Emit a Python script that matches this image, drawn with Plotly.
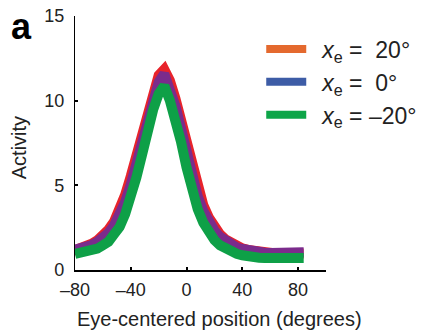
import plotly.graph_objects as go

# Eye-centered position grid (degrees)
x_deg = list(range(-84, 85, 4))

# Activity for x_e = 20 deg (drawn red)
act_xe_20 = [1.05, 1.15, 1.3, 1.4, 1.55, 1.75, 2.01, 2.38, 2.86, 3.54, 4.45, 5.54, 6.8, 8.16,
             9.47, 10.55, 11.5, 11.85, 11.2, 10.13, 8.92, 7.51, 6.07, 4.82, 3.84, 3.1, 2.54,
             2.11, 1.81, 1.58, 1.40, 1.28, 1.19, 1.12, 1.06, 1.02, 0.99, 0.97, 0.97, 0.97,
             0.97, 0.97, 0.98]
# Activity for x_e = 0 deg (drawn purple)
act_xe_0 = [None, 1.2, 1.26, 1.35, 1.48, 1.66, 1.88, 2.2, 2.63, 3.2, 4.03, 5.04, 6.25, 7.58,
            8.99, 10.17, 11.1, 11.58, 10.76, 9.69, 8.38, 6.9, 5.49, 4.35, 3.48, 2.83, 2.33,
            1.96, 1.70, 1.49, 1.33, 1.24, 1.16, 1.09, 1.05, 1.02, 1.01, 1.0, 1.0, 1.0,
            0.99, 1.0, 1.05]
# Activity for x_e = -20 deg (drawn green)
act_xe_m20 = [None, 0.95, 1.0, 1.06, 1.13, 1.26, 1.46, 1.67, 2.11, 2.54, 3.3, 4.25, 5.46, 6.77,
              8.23, 9.45, 10.4, 10.87, 10.02, 8.94, 7.58, 6.05, 4.67, 3.59, 2.8, 2.23, 1.77,
              1.46, 1.25, 1.06, 0.96, 0.87, 0.79, 0.75, 0.72, 0.71, 0.7, 0.69, 0.69, 0.69,
              0.69, 0.69, 0.71]

x_tick_vals = [-80, -40, 0, 40, 80]
x_tick_text = ["\u201380", "\u201340", "0", "40", "80"]
y_tick_vals = [0, 5, 10, 15]
y_tick_text = ["0", "5", "10", "15"]

legend_labels = ["\u00a0\u2009<i>x</i><sub>e</sub> =\u00a0\u00a020\u00b0",
                 "\u00a0\u2009<i>x</i><sub>e</sub> =\u00a0\u00a00\u00b0",
                 "\u00a0\u2009<i>x</i><sub>e</sub> = \u201320\u00b0"]

FONT = "Liberation Sans, Arial, Helvetica, sans-serif"
LW = 10

fig = go.Figure()
# red first (bottom), with a square cap at its left end
fig.add_trace(go.Scatter(x=x_deg, y=act_xe_20, mode="lines+markers",
                         line=dict(color="#E8232B", width=LW),
                         marker=dict(symbol="square", size=[9] + [0] * (len(x_deg) - 1),
                                     color="#E8232B", line=dict(width=0)),
                         cliponaxis=False, showlegend=False, hoverinfo="skip"))
fig.add_trace(go.Scatter(x=x_deg, y=act_xe_0, mode="lines",
                         line=dict(color="#7B2B8C", width=LW),
                         showlegend=False, hoverinfo="skip"))
fig.add_trace(go.Scatter(x=x_deg, y=act_xe_m20, mode="lines",
                         line=dict(color="#0EA047", width=LW),
                         showlegend=False, hoverinfo="skip"))

legend_colors = ["#E4692E", "#3D5CA6", "#0DA548"]
for i, (lab, col) in enumerate(zip(legend_labels, legend_colors)):
    fig.add_trace(go.Scatter(x=[None], y=[None], mode="lines", name=lab,
                             legendgroup=f"g{i}",
                             line=dict(color=col, width=8)))

fig.update_layout(
    width=428, height=330,
    margin=dict(l=75, r=102, t=16, b=60, autoexpand=False),
    paper_bgcolor="white", plot_bgcolor="white",
    font=dict(family=FONT, color="#222", size=18),
    showlegend=True,
    legend=dict(x=0.742, y=0.955, xanchor="left", yanchor="top",
                font=dict(size=23, family=FONT, color="#222"),
                bgcolor="rgba(0,0,0,0)", tracegroupgap=0, itemwidth=40),
    xaxis=dict(range=[-80, 100], tickvals=x_tick_vals, ticktext=x_tick_text,
               ticks="inside", ticklen=3, tickwidth=1.5, tickcolor="black",
               showline=True, linewidth=2, linecolor="black", automargin=False,
               showgrid=False, zeroline=False, ticklabelstandoff=2,
               tickfont=dict(size=18)),
    yaxis=dict(range=[0, 15], tickvals=y_tick_vals, ticktext=y_tick_text,
               ticks="inside", ticklen=3, tickwidth=1.5, tickcolor="black",
               showline=True, linewidth=1.2, linecolor="black", automargin=False,
               showgrid=False, zeroline=False, ticklabelstandoff=6,
               tickfont=dict(size=18)),
    annotations=[
        dict(text="Eye-centered position (degrees)", x=0.577, y=-0.192,
             xref="paper", yref="paper", xanchor="center", yanchor="middle",
             showarrow=False, font=dict(size=20)),
        dict(text="Activity", x=-0.2255, y=0.481, xref="paper", yref="paper",
             xanchor="center", yanchor="middle", textangle=-90,
             showarrow=False, font=dict(size=20)),
        dict(text="<b>a</b>", x=-0.2136, y=0.958, xref="paper", yref="paper",
             xanchor="center", yanchor="middle", showarrow=False,
             font=dict(size=36, color="black")),
    ],
)

fig.write_html("out.html",
               config={"displayModeBar": False},
               post_script="document.body.style.margin='0';"
                           "document.body.style.overflow='hidden';")
